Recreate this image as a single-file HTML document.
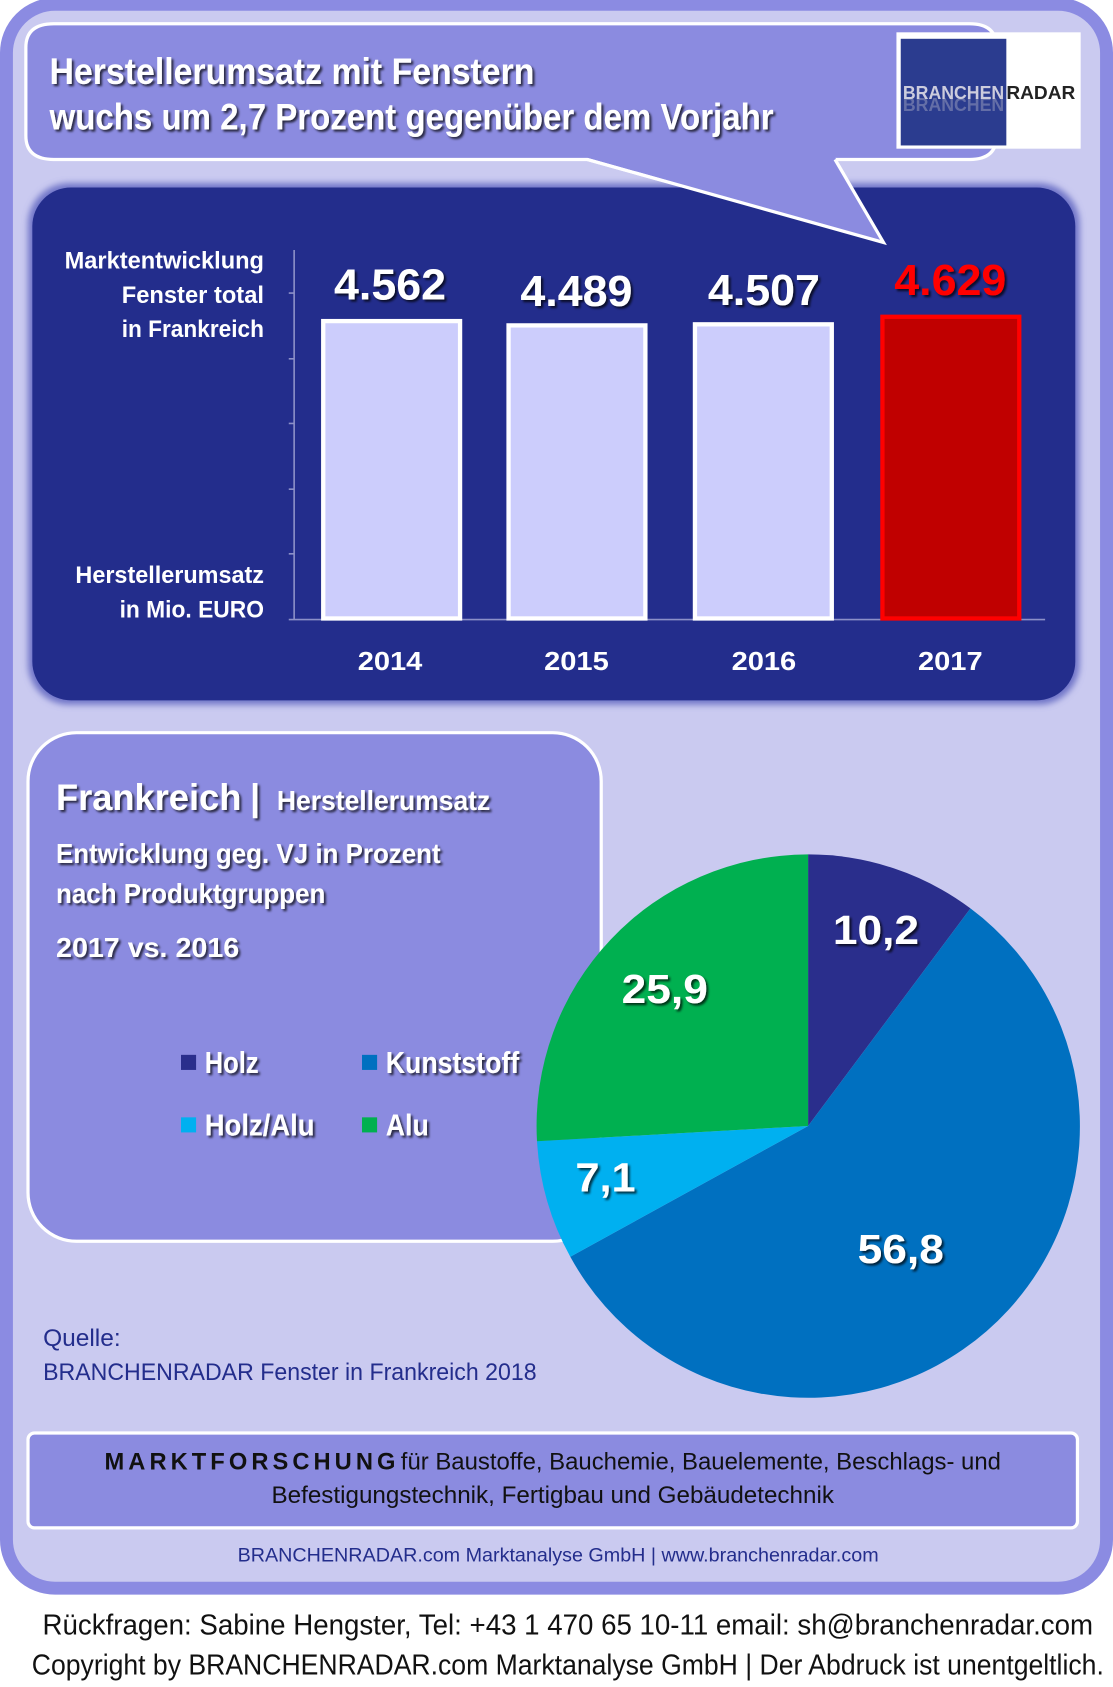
<!DOCTYPE html>
<html><head><meta charset="utf-8"><style>
html,body{margin:0;padding:0;background:#fff;}
svg{display:block;}
text{font-family:"Liberation Sans",sans-serif;}
</style></head><body>
<svg width="1113" height="1687" viewBox="0 0 1033 1565.7" preserveAspectRatio="none" xmlns="http://www.w3.org/2000/svg">
<defs>
<filter id="sh" x="-10%" y="-10%" width="130%" height="140%"><feDropShadow dx="2" dy="2" stdDeviation="1" flood-color="#000" flood-opacity="0.7"/></filter>
<filter id="glow" x="-5%" y="-5%" width="110%" height="110%"><feGaussianBlur stdDeviation="3"/></filter>
</defs>
<rect width="1033" height="1566" fill="#fff"/>
<rect x="6" y="4" width="1021" height="1470" rx="45" fill="#cacaf0" stroke="#8b8be2" stroke-width="12"/>
<path d="M50 22 H900 Q925 22 925 44 V126 Q925 148 900 148 H775 L820 225 L545 148 H50 Q24 148 24 126 V44 Q24 22 50 22 Z" fill="#8b8be0" stroke="#fff" stroke-width="3"/>
<text x="46" y="78" font-size="34" font-weight="bold" fill="#fff" filter="url(#sh)" textLength="450" lengthAdjust="spacingAndGlyphs">Herstellerumsatz mit  Fenstern</text>
<text x="46" y="120" font-size="34" font-weight="bold" fill="#fff" filter="url(#sh)" textLength="672" lengthAdjust="spacingAndGlyphs">wuchs um 2,7 Prozent gegenüber dem Vorjahr</text>
<rect x="832" y="30" width="171" height="108" fill="#fff"/>
<rect x="836" y="36" width="98" height="99" fill="#2b3c8f"/>
<text x="838" y="103" font-size="17" font-weight="bold" fill="#8a90b8" opacity="0.6" textLength="94" lengthAdjust="spacingAndGlyphs">BRANCHEN</text>
<text x="838" y="92" font-size="17" font-weight="bold" fill="#ccd" textLength="94" lengthAdjust="spacingAndGlyphs">BRANCHEN</text>
<text x="934" y="92" font-size="17" font-weight="bold" fill="#222" textLength="64" lengthAdjust="spacingAndGlyphs">RADAR</text>
<rect x="26" y="170" width="976" height="484" rx="38" fill="#6f75c8" filter="url(#glow)"/>
<rect x="30" y="174" width="968" height="476" rx="36" fill="#232d8c"/>
<!-- bubble tail on top of panel -->
<path d="M545 146 L820 225 L775 146 Z" fill="#8b8be0"/>
<path d="M545 148 L820 225 L775 148" fill="none" stroke="#fff" stroke-width="3"/>
<g font-size="22" font-weight="bold" fill="#fff" text-anchor="end">
<text x="245" y="249" textLength="185" lengthAdjust="spacingAndGlyphs">Marktentwicklung</text>
<text x="245" y="281" textLength="132" lengthAdjust="spacingAndGlyphs">Fenster total</text>
<text x="245" y="313" textLength="132" lengthAdjust="spacingAndGlyphs">in Frankreich</text>
<text x="245" y="541" textLength="175" lengthAdjust="spacingAndGlyphs">Herstellerumsatz</text>
<text x="245" y="573" textLength="134" lengthAdjust="spacingAndGlyphs">in Mio. EURO</text>
</g>
<g stroke="#8c90c8" stroke-width="1.5">
<line x1="273" y1="232" x2="273" y2="575"/>
<line x1="268" y1="272" x2="273" y2="272"/><line x1="268" y1="333" x2="273" y2="333"/>
<line x1="268" y1="393" x2="273" y2="393"/><line x1="268" y1="454" x2="273" y2="454"/>
<line x1="268" y1="514" x2="273" y2="514"/>
<line x1="268" y1="575" x2="970" y2="575"/>
</g>
<g stroke="#fff" stroke-width="4" fill="#cccdfc">
<rect x="300" y="298" width="127" height="276"/>
<rect x="472" y="302" width="127" height="272"/>
<rect x="645" y="301" width="127" height="273"/>
</g>
<rect x="819" y="294" width="127" height="280" fill="#c00000" stroke="#ff0000" stroke-width="4"/>
<g font-size="40" font-weight="bold" text-anchor="middle" filter="url(#sh)">
<text x="362" y="278" fill="#fff" textLength="104" lengthAdjust="spacingAndGlyphs">4.562</text>
<text x="535" y="284" fill="#fff" textLength="104" lengthAdjust="spacingAndGlyphs">4.489</text>
<text x="709" y="283" fill="#fff" textLength="104" lengthAdjust="spacingAndGlyphs">4.507</text>
<text x="882" y="274" fill="#ff0000" textLength="104" lengthAdjust="spacingAndGlyphs">4.629</text>
</g>
<g font-size="24" font-weight="bold" fill="#fff" text-anchor="middle">
<text x="362" y="622" textLength="60" lengthAdjust="spacingAndGlyphs">2014</text>
<text x="535" y="622" textLength="60" lengthAdjust="spacingAndGlyphs">2015</text>
<text x="709" y="622" textLength="60" lengthAdjust="spacingAndGlyphs">2016</text>
<text x="882" y="622" textLength="60" lengthAdjust="spacingAndGlyphs">2017</text>
</g>
<rect x="26" y="680" width="532" height="472" rx="45" fill="#8b8be0" stroke="#fff" stroke-width="3"/>
<g fill="#fff" font-weight="bold" filter="url(#sh)">
<text x="52" y="752" font-size="34" textLength="172" lengthAdjust="spacingAndGlyphs">Frankreich</text>
<text x="232" y="752" font-size="34">|</text>
<text x="257" y="752" font-size="26" textLength="198" lengthAdjust="spacingAndGlyphs">Herstellerumsatz</text>
<text x="52" y="801" font-size="26" textLength="357" lengthAdjust="spacingAndGlyphs">Entwicklung  geg. VJ in Prozent</text>
<text x="52" y="838" font-size="26" textLength="250" lengthAdjust="spacingAndGlyphs">nach Produktgruppen</text>
<text x="52" y="888" font-size="26" textLength="170" lengthAdjust="spacingAndGlyphs">2017 vs. 2016</text>
<text x="190" y="996" font-size="28" textLength="50" lengthAdjust="spacingAndGlyphs">Holz</text>
<text x="358" y="996" font-size="28" textLength="124" lengthAdjust="spacingAndGlyphs">Kunststoff</text>
<text x="190" y="1054" font-size="28" textLength="102" lengthAdjust="spacingAndGlyphs">Holz/Alu</text>
<text x="358" y="1054" font-size="28" textLength="40" lengthAdjust="spacingAndGlyphs">Alu</text>
</g>
<rect x="168" y="979" width="14" height="14" fill="#2a2e8c"/>
<rect x="336" y="979" width="14" height="14" fill="#0070c0"/>
<rect x="168" y="1037" width="14" height="14" fill="#00b0f0"/>
<rect x="336" y="1037" width="14" height="14" fill="#00b050"/>
<path d="M750 1045 L750 793 A252 252 0 0 1 900.7 843.1 Z" fill="#2a2e8c"/>
<path d="M750 1045 L900.7 843.1 A252 252 0 1 1 529.3 1166.4 Z" fill="#0070c0"/>
<path d="M750 1045 L529.3 1166.4 A252 252 0 0 1 498.4 1059.2 Z" fill="#00b0f0"/>
<path d="M750 1045 L498.4 1059.2 A252 252 0 0 1 750 793 Z" fill="#00b050"/>
<g font-size="38" font-weight="bold" fill="#fff" text-anchor="middle" filter="url(#sh)">
<text x="813" y="876" textLength="80" lengthAdjust="spacingAndGlyphs">10,2</text>
<text x="836" y="1172" textLength="80" lengthAdjust="spacingAndGlyphs">56,8</text>
<text x="562" y="1106" textLength="56" lengthAdjust="spacingAndGlyphs">7,1</text>
<text x="617" y="931" textLength="80" lengthAdjust="spacingAndGlyphs">25,9</text>
</g>
<text x="40" y="1249" font-size="22" fill="#232d8c" textLength="72" lengthAdjust="spacingAndGlyphs">Quelle:</text>
<text x="40" y="1281" font-size="22" fill="#232d8c" textLength="458" lengthAdjust="spacingAndGlyphs">BRANCHENRADAR Fenster  in  Frankreich 2018</text>
<rect x="26" y="1330" width="974" height="88" rx="6" fill="#8b8be0" stroke="#fff" stroke-width="3"/>
<text x="97" y="1364" font-size="22" font-weight="bold" fill="#111" textLength="270" lengthAdjust="spacing">MARKTFORSCHUNG</text>
<text x="372" y="1364" font-size="22" fill="#111" textLength="557" lengthAdjust="spacingAndGlyphs">für Baustoffe, Bauchemie, Bauelemente, Beschlags- und</text>
<text x="513" y="1395" font-size="22" fill="#111" text-anchor="middle" textLength="522" lengthAdjust="spacingAndGlyphs">Befestigungstechnik, Fertigbau und Gebäudetechnik</text>
<text x="518" y="1449" font-size="18" fill="#232d8c" text-anchor="middle" textLength="595" lengthAdjust="spacingAndGlyphs">BRANCHENRADAR.com Marktanalyse GmbH | www.branchenradar.com</text>
<text x="527" y="1517" font-size="27" fill="#111" text-anchor="middle" textLength="975" lengthAdjust="spacingAndGlyphs">Rückfragen: Sabine Hengster, Tel: +43 1 470 65 10-11 email: sh@branchenradar.com</text>
<text x="527" y="1554" font-size="27" fill="#111" text-anchor="middle" textLength="995" lengthAdjust="spacingAndGlyphs">Copyright by BRANCHENRADAR.com  Marktanalyse GmbH | Der Abdruck ist unentgeltlich.</text>
</svg>
</body></html>
